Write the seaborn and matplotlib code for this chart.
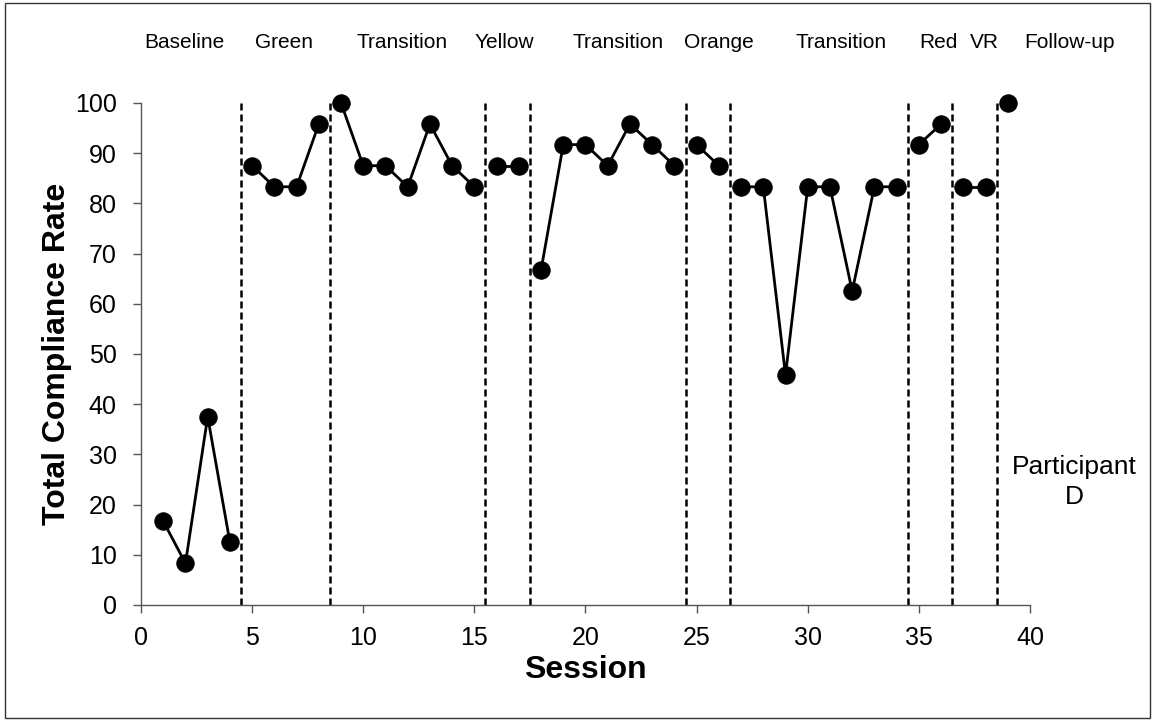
import matplotlib
matplotlib.use("Agg")
import matplotlib.pyplot as plt
import seaborn as sns
import pandas as pd
import numpy as np

sessions = list(range(1, 40))
compliance = [16.7, 8.3, 37.5, 12.5,
              87.5, 83.3, 83.3, 95.8,
              100, 87.5, 87.5, 83.3, 95.8, 87.5, 83.3,
              87.5, 87.5,
              66.7, 91.7, 91.7, 87.5, 95.8, 91.7, 87.5,
              91.7, 87.5,
              83.3, 83.3, 45.8, 83.3, 83.3, 62.5, 83.3, 83.3,
              91.7, 95.8,
              83.3, 83.3,
              100]
segment = [0]*4 + [1]*4 + [2]*7 + [3]*2 + [4]*7 + [5]*2 + [6]*8 + [7]*2 + [8]*2 + [9]*1
phase_lines = [4.5, 8.5, 15.5, 17.5, 24.5, 26.5, 34.5, 36.5, 38.5]
phase_names = ["Baseline", "Green", "Transition", "Yellow", "Transition", "Orange",
               "Transition", "Red", "VR", "Follow-up"]
phase_label_x = [1.93, 6.43, 11.75, 16.33, 21.46, 26.0, 31.5, 35.86, 37.93, 41.8]

df = pd.DataFrame({"Session": sessions, "Rate": compliance, "seg": segment})

sns.set_theme(style="white")
plt.rcParams['font.family'] = ['Liberation Sans', 'DejaVu Sans']
plt.rcParams['text.color'] = 'black'
plt.rcParams['axes.labelcolor'] = 'black'
plt.rcParams['xtick.color'] = 'black'
plt.rcParams['ytick.color'] = 'black'

fig = plt.figure(figsize=(11.53, 7.21), dpi=100)
ax = fig.add_axes([0.1223, 0.1609, 0.771, 0.6963])

sns.lineplot(data=df, x="Session", y="Rate", units="seg", estimator=None,
             color="black", marker="o", markersize=12.5, linewidth=2,
             markeredgecolor="black", ax=ax, clip_on=False)

for xv in phase_lines:
    ax.plot([xv, xv], [0, 100], color="black", linestyle=(0, (2.8, 1.6)), linewidth=1.8, clip_on=False)

for name, xv in zip(phase_names, phase_label_x):
    ax.text(xv, 112, name, ha="center", va="center", fontsize=15, clip_on=False)

ax.text(42.0, 24.5, "Participant\nD", ha="center", va="center", fontsize=19, linespacing=1.3)

ax.set_xlim(0, 40)
ax.set_ylim(0, 100)
ax.set_xticks(range(0, 41, 5))
ax.set_yticks(range(0, 101, 10))
ax.tick_params(axis="both", labelsize=18, direction="out", length=6, width=1,
               bottom=True, left=True, labelcolor="black", color="#555555")
ax.tick_params(axis="x", pad=9)
ax.tick_params(axis="y", pad=11.5)
for s in ["top", "right"]:
    ax.spines[s].set_visible(False)
for s in ["left", "bottom"]:
    ax.spines[s].set_color("#555555")
    ax.spines[s].set_linewidth(1)

ax.set_xlabel("Session", fontsize=23, fontweight="bold", labelpad=4, color="black")
ax.set_ylabel("Total Compliance Rate", fontsize=23, fontweight="bold", labelpad=2, color="black")

fig.patches.append(plt.Rectangle((0.004, 0.004), 0.993, 0.992, transform=fig.transFigure,
                                 fill=False, edgecolor="#333333", linewidth=1))

fig.savefig("out.png", dpi=100)
